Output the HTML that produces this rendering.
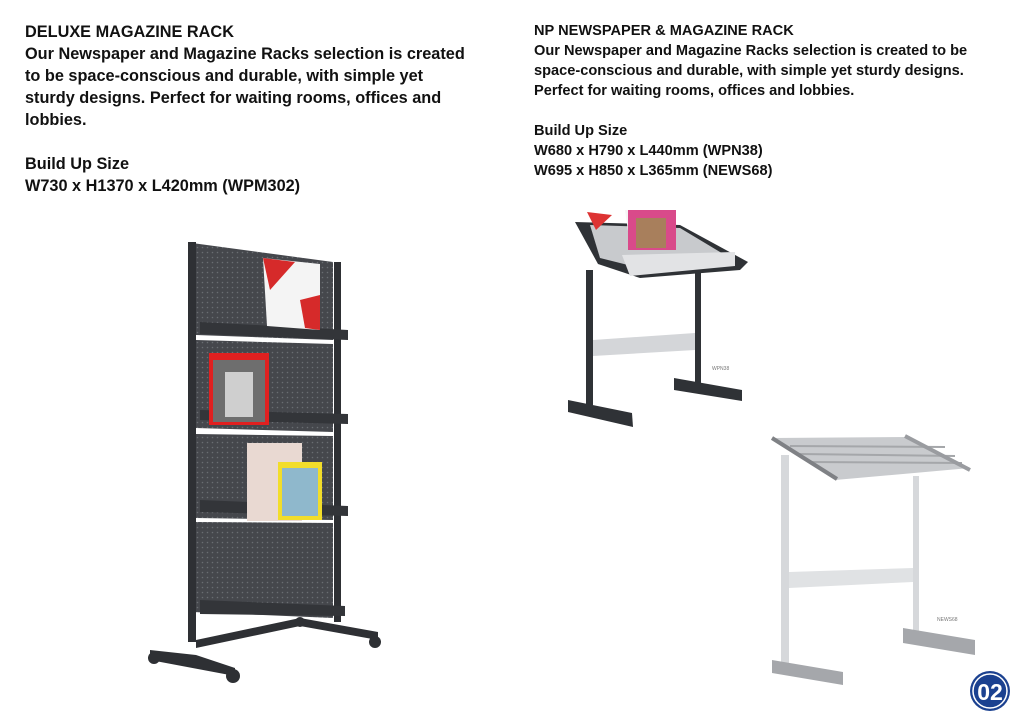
<!DOCTYPE html>
<html><head><meta charset="utf-8"><style>
html,body{margin:0;padding:0;background:#fff;}
body{width:1024px;height:724px;position:relative;overflow:hidden;font-family:"Liberation Sans",sans-serif;color:#111;}
.t{position:absolute;font-weight:bold;white-space:nowrap;}
.l{left:25px;top:21px;font-size:16.3px;line-height:22px;}
.r{left:534px;top:21px;font-size:14.6px;line-height:20px;}
svg{position:absolute;left:0;top:0;}
</style></head><body>
<div class="t l">DELUXE MAGAZINE RACK<br>Our Newspaper and Magazine Racks selection is created<br>to be space-conscious and durable, with simple yet<br>sturdy designs. Perfect for waiting rooms, offices and<br>lobbies.<br><br>Build Up Size<br>W730 x H1370 x L420mm (WPM302)</div>
<div class="t r">NP NEWSPAPER &amp; MAGAZINE RACK<br>Our Newspaper and Magazine Racks selection is created to be<br>space-conscious and durable, with simple yet sturdy designs.<br>Perfect for waiting rooms, offices and lobbies.<br><br>Build Up Size<br>W680 x H790 x L440mm (WPN38)<br>W695 x H850 x L365mm (NEWS68)</div>
<svg width="1024" height="724" viewBox="0 0 1024 724">
<defs><pattern id="dots" width="5" height="5" patternUnits="userSpaceOnUse"><rect width="5" height="5" fill="#45474c"/><circle cx="2.5" cy="2.5" r="0.8" fill="#6a6d72"/></pattern></defs>
<polygon points="192,243 333,262 333,618 192,612" fill="url(#dots)"/>
<rect x="188" y="242" width="8" height="400" fill="#2e3034"/>
<rect x="334" y="262" width="7" height="360" fill="#2e3034"/>
<g fill="#333539">
<polygon points="200,322 348,330 348,340 200,334"/>
<polygon points="200,410 348,414 348,424 200,420"/>
<polygon points="200,500 348,506 348,516 200,512"/>
<polygon points="200,600 345,606 345,616 200,614"/>
</g>
<g fill="#fff"><polygon points="196,335 333,340 333,344 196,340"/><polygon points="196,428 333,432 333,436 196,434"/><polygon points="196,518 333,520 333,523 196,522"/></g>
<polygon points="263,258 320,264 320,330 267,326" fill="#f4f4f4"/><polygon points="263,258 295,262 270,290" fill="#d62a2a"/><polygon points="300,300 320,295 320,330 305,328" fill="#d62a2a"/>
<rect x="209" y="353" width="60" height="72" fill="#e02020"/><rect x="213" y="360" width="52" height="62" fill="#6e6e6e"/><rect x="225" y="372" width="28" height="45" fill="#cfcfcf"/>
<rect x="247" y="443" width="55" height="78" fill="#e9d9d2"/><rect x="278" y="462" width="44" height="58" fill="#f2dd2a"/><rect x="282" y="468" width="36" height="48" fill="#8fb8cc"/>
<g fill="#2e3034">
<polygon points="150,650 196,655 235,668 235,676 150,660"/>
<polygon points="196,640 300,618 378,632 378,640 300,626 196,648"/>
<circle cx="154" cy="658" r="6"/><circle cx="233" cy="676" r="7"/><circle cx="375" cy="642" r="6"/><circle cx="300" cy="622" r="5"/>
</g>
<polygon points="575,222 680,225 748,262 740,270 640,278 598,264" fill="#2f3236"/>
<polygon points="590,225 680,228 730,258 640,268 600,258" fill="#c8cacd"/>
<polygon points="625,210 650,212 655,245 630,245" fill="#f5f5f5"/><polygon points="587,212 612,215 596,230" fill="#d33"/>
<rect x="628" y="210" width="48" height="40" fill="#d94a8a"/><rect x="636" y="218" width="30" height="30" fill="#a87f5c"/>
<polygon points="622,255 735,252 735,266 630,276" fill="#e2e3e5"/>
<rect x="586" y="270" width="7" height="135" fill="#2f3236"/><rect x="695" y="272" width="6" height="115" fill="#2f3236"/>
<polygon points="593,340 695,333 695,350 593,356" fill="#d4d6d9"/>
<polygon points="568,400 632,413 633,427 568,412" fill="#2f3236"/><polygon points="674,378 742,390 742,401 674,390" fill="#2f3236"/>
<text x="712" y="370" font-size="5" fill="#777" font-family="Liberation Sans">WPN38</text>
<polygon points="772,438 910,437 970,468 835,480" fill="#c9cbce"/>
<g stroke="#a5a7aa" stroke-width="2"><line x1="790" y1="446" x2="945" y2="447"/><line x1="800" y1="454" x2="955" y2="456"/><line x1="810" y1="462" x2="962" y2="463"/></g>
<line x1="772" y1="438" x2="837" y2="479" stroke="#7f8185" stroke-width="4"/><line x1="905" y1="436" x2="970" y2="470" stroke="#9a9ca0" stroke-width="4"/>
<rect x="781" y="455" width="8" height="212" fill="#d6d8db"/><rect x="913" y="476" width="6" height="160" fill="#d6d8db"/>
<polygon points="789,572 913,568 913,582 789,588" fill="#e0e2e4"/>
<polygon points="772,660 843,672 843,685 772,673" fill="#a5a7ab"/><polygon points="903,628 975,640 975,655 903,643" fill="#a5a7ab"/>
<text x="937" y="621" font-size="5" fill="#777" font-family="Liberation Sans">NEWS68</text>
<circle cx="990" cy="691" r="20" fill="#1b4190"/><circle cx="990" cy="691" r="17" fill="none" stroke="#fff" stroke-width="1.5"/>
<text x="990" y="700" font-size="23" font-weight="bold" fill="#fff" text-anchor="middle" font-family="Liberation Sans">02</text>
</svg>
</body></html>
